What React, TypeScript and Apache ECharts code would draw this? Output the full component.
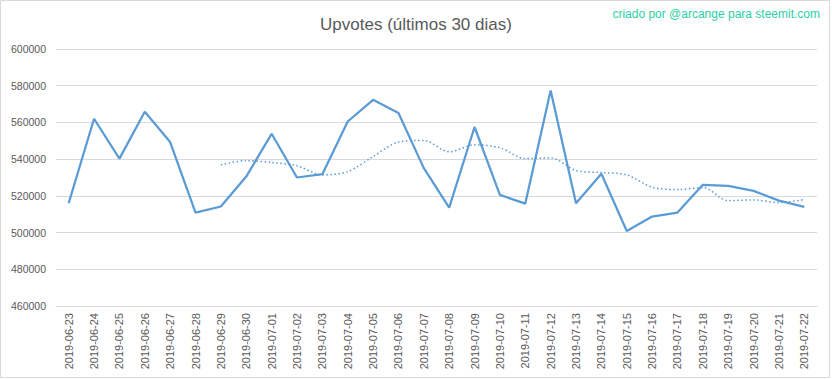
import React, { useEffect, useRef } from "react";
import * as echarts from "echarts";

const categories = [
  "2019-06-23", "2019-06-24", "2019-06-25", "2019-06-26", "2019-06-27", "2019-06-28",
  "2019-06-29", "2019-06-30", "2019-07-01", "2019-07-02", "2019-07-03", "2019-07-04",
  "2019-07-05", "2019-07-06", "2019-07-07", "2019-07-08", "2019-07-09", "2019-07-10",
  "2019-07-11", "2019-07-12", "2019-07-13", "2019-07-14", "2019-07-15", "2019-07-16",
  "2019-07-17", "2019-07-18", "2019-07-19", "2019-07-20", "2019-07-21", "2019-07-22",
];

const upvotes = [
  516000, 562000, 540300, 565800, 549300, 510900,
  514200, 530500, 553800, 530000, 531800, 560500,
  572300, 565100, 535100, 513600, 557500, 520500,
  515800, 577400, 516000, 532000, 500900, 508700,
  510900, 526000, 525400, 522700, 517400, 514000,
];

const movingAvg: (number | null)[] = [
  null, null, null, null, null, null,
  536900, 539200, 538200, 536400, 531400, 533200,
  541400, 549300, 550200, 544000, 547800, 546200,
  540300, 540700, 533800, 532700, 531400, 524700,
  523400, 524500, 517400, 517800, 516300, 518000,
];

const yMin = 460000;
const yMax = 600000;
const yStep = 20000;

const titleText = "Upvotes (últimos 30 dias)";
const creditText = "criado por @arcange para steemit.com";

export default function App() {
  const ref = useRef<HTMLDivElement>(null);

  useEffect(() => {
    if (!ref.current) return;
    const chart = echarts.init(ref.current, undefined, { renderer: "svg" });
    const font = "'Liberation Sans', Arial, sans-serif";
    chart.setOption({
      animation: false,
      backgroundColor: "#ffffff",
      textStyle: { fontFamily: font },
      title: {
        text: titleText,
        left: "center",
        top: 11,
        textStyle: { fontSize: 17, fontWeight: "normal", color: "#595959", fontFamily: font },
      },
      graphic: [
        {
          type: "rect",
          shape: { x: 0.5, y: 0.5, width: 829, height: 377 },
          style: { fill: "none", stroke: "#d9d9d9", lineWidth: 1 },
          silent: true,
        },
        {
          type: "text",
          right: 12,
          top: 8,
          style: { text: creditText, fill: "#2ccfa8", fontSize: 12, fontFamily: font },
        },
      ],
      grid: { left: 56, right: 15, top: 49, bottom: 73, containLabel: false },
      xAxis: {
        type: "category",
        data: categories,
        boundaryGap: true,
        axisLine: { lineStyle: { color: "#d9d9d9", width: 1 } },
        axisTick: { show: false },
        axisLabel: {
          rotate: 90,
          interval: 0,
          margin: 7,
          color: "#595959",
          fontSize: 11,
          fontFamily: font,
        },
      },
      yAxis: {
        type: "value",
        min: yMin,
        max: yMax,
        interval: yStep,
        axisLine: { show: false },
        axisTick: { show: false },
        splitLine: { lineStyle: { color: "#d9d9d9", width: 1 } },
        axisLabel: {
          color: "#595959",
          fontSize: 10.5,
          margin: 10,
          fontFamily: font,
          formatter: (v: number) => String(v),
        },
      },
      series: [
        {
          name: "Upvotes",
          type: "line",
          data: upvotes,
          symbol: "none",
          lineStyle: { color: "#5b9bd5", width: 2.25 },
          itemStyle: { color: "#5b9bd5" },
          z: 3,
        },
        {
          name: "Média",
          type: "line",
          data: movingAvg,
          symbol: "none",
          smooth: 0.3,
          lineStyle: { color: "#5b9bd5", width: 1.5, type: [1.5, 2.5] },
          itemStyle: { color: "#5b9bd5" },
          z: 2,
        },
      ],
    });
    return () => chart.dispose();
  }, []);

  return (
    <div
      ref={ref}
      style={{ position: "absolute", left: 0, top: 0, width: 832, height: 379 }}
    />
  );
}
